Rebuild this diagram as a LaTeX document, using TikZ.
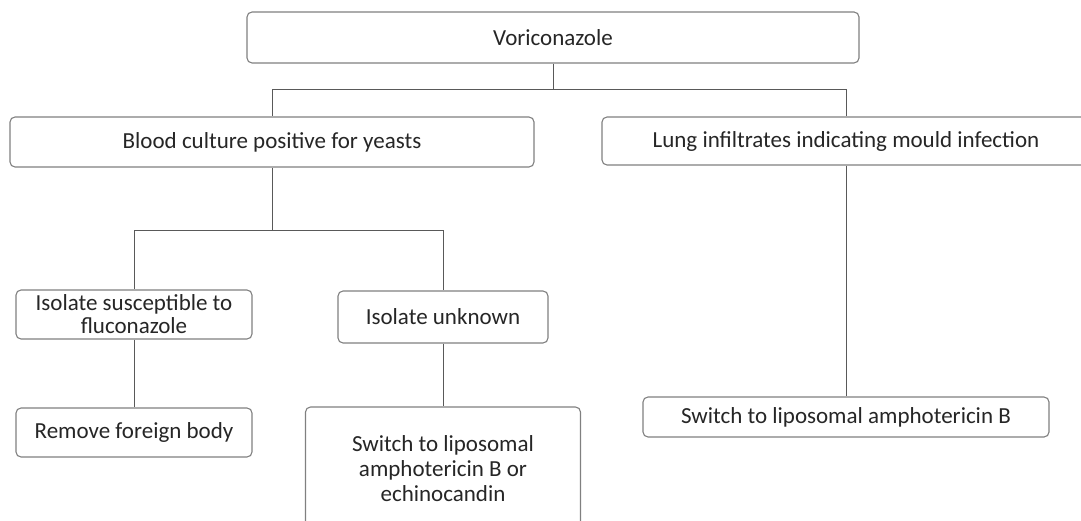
\documentclass[tikz,border=0pt]{standalone}
\usepackage{fontspec}
\setmainfont{Carlito}
\begin{document}
\begin{tikzpicture}[x=1pt,y=-1pt,
  box/.style={draw=black!50, line width=1.1pt, rounded corners=5pt, fill=white,
    align=center, inner sep=0pt, text=black!85,
    font=\fontsize{23}{25}\selectfont},
  link/.style={draw=black!65, line width=1pt}]
\useasboundingbox (0,0) rectangle (1081,521);
\clip (0,0) rectangle (1081,521);

% boxes
\node[box, minimum width=612pt, minimum height=51pt] (vori) at (553,37.5) {Voriconazole};
\node[box, minimum width=524pt, minimum height=50pt] (blood) at (272,142) {Blood culture positive for yeasts};
\node[box, minimum width=488pt, minimum height=48pt] (lung) at (846,141) {Lung infiltrates indicating mould infection};
\node[box, minimum width=236pt, minimum height=49pt,
      font=\fontsize{23}{23}\selectfont] (susc) at (134,314.5) {Isolate susceptible to\\fluconazole};
\node[box, minimum width=210pt, minimum height=52pt] (unk) at (443,317) {Isolate unknown};
\node[box, minimum width=236pt, minimum height=49pt] (remove) at (134,432.5) {Remove foreign body};
\node[box, minimum width=275pt, minimum height=124pt] (sw1) at (443,469) {Switch to liposomal\\amphotericin B or\\echinocandin};
\node[box, minimum width=406pt, minimum height=40pt] (sw2) at (846,417) {Switch to liposomal amphotericin B};

% junction points
\coordinate (j1) at (553,90);
\coordinate (j2) at (272,231);

% connectors
\draw[link] (vori.south) -- (j1);
\draw[link] (j1) -| (blood.north);
\draw[link] (j1) -| (lung.north);
\draw[link] (lung.south) -- (sw2.north);
\draw[link] (blood.south) -- (j2);
\draw[link] (j2) -| (susc.north);
\draw[link] (j2) -| (unk.north);
\draw[link] (susc.south) -- (remove.north);
\draw[link] (unk.south) -- (sw1.north);
\end{tikzpicture}
\end{document}
